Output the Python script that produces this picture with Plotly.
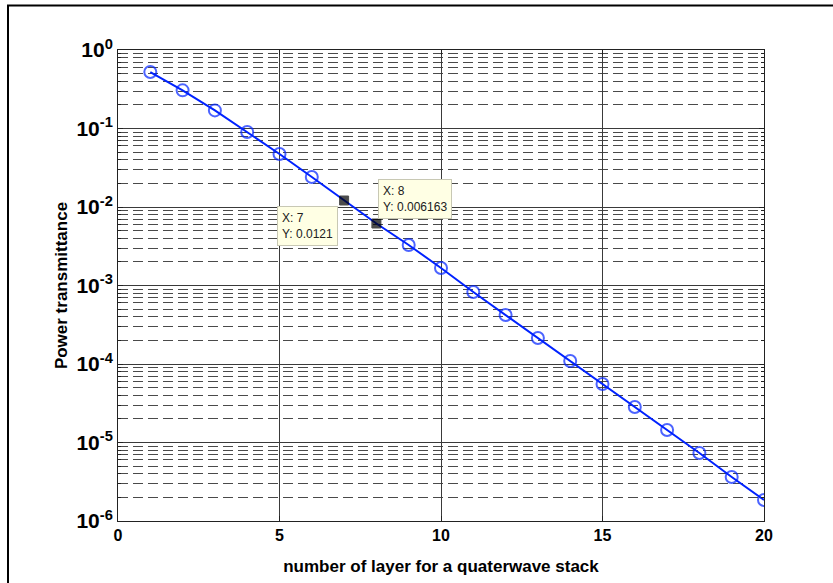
import math
import plotly.graph_objects as go

# Power transmittance of a quarter-wave stack vs. number of layers
layers = list(range(1, 21))
transmittance = [0.524, 0.306, 0.170, 0.0902, 0.0473, 0.0241, 0.0121, 0.006163,
                 0.00328, 0.00167, 0.000826, 0.000421, 0.000214, 0.000109,
                 5.56e-5, 2.83e-5, 1.44e-5, 7.35e-6, 3.64e-6, 1.85e-6]

# data tips shown on the plot
tip_layers = [7, 8]
tip_labels = ["X: 7<br>Y: 0.0121", "X: 8<br>Y: 0.006163"]

x_ticks = [0, 5, 10, 15, 20]
y_decades = [-6, -5, -4, -3, -2, -1, 0]

FONT = "Liberation Sans, Arial, sans-serif"

y_tickvals = [10.0 ** d for d in y_decades]
y_ticktext = [f"<span style='font-size:21px;font-weight:bold'>10<sup>{d}</sup></span>"
              for d in y_decades]
y_minor = [m * 10.0 ** d for d in y_decades[:-1] for m in range(2, 10)]

# marker style per point: open circles, black squares at data tips
symbols = ["square" if x in tip_layers else "circle-open" for x in layers]
mcolors = ["black" if x in tip_layers else "#0022ff" for x in layers]
msizes = [9 if x in tip_layers else 12 for x in layers]
mline_widths = [1 if x in tip_layers else 2 for x in layers]
mline_colors = ["black" if x in tip_layers else "#0022ff" for x in layers]

fig = go.Figure()
fig.add_trace(go.Scatter(
    x=layers, y=transmittance, mode="lines+markers",
    line=dict(color="#0022ff", width=2),
    marker=dict(symbol=symbols, color=mcolors, size=msizes,
                line=dict(color=mline_colors, width=mline_widths)),
    showlegend=False, hoverinfo="skip",
))

tip_y = [transmittance[layers.index(x)] for x in tip_layers]
anchors = [("right", "top", -6, -5), ("left", "bottom", 2, 5)]
for x, y, txt, (xa, ya, xs, ys) in zip(tip_layers, tip_y, tip_labels, anchors):
    fig.add_annotation(
        x=x, y=math.log10(y), xref="x", yref="y", text=txt, showarrow=False,
        xanchor=xa, yanchor=ya, xshift=xs, yshift=ys, align="left",
        font=dict(family=FONT, size=12, color="#202020"),
        bgcolor="#ffffe4", bordercolor="#c8c8b4", borderwidth=1, borderpad=4,
    )

# outer window frame (top and left edges)
L, R, T, B = 118, 764, 50, 521
W, H = R - L, B - T
def px(v):
    return (v - L) / W
def py(v):
    return (B - v) / H
fig.add_shape(type="line", xref="paper", yref="paper",
              x0=px(7), x1=px(833), y0=py(5.5), y1=py(5.5),
              line=dict(color="black", width=2))
fig.add_shape(type="line", xref="paper", yref="paper",
              x0=px(8), x1=px(8), y0=py(5.5), y1=py(583),
              line=dict(color="black", width=2))

fig.update_layout(
    width=833, height=583,
    margin=dict(l=L, r=833 - R, t=T, b=583 - B),
    paper_bgcolor="white", plot_bgcolor="white",
    font=dict(family=FONT, color="black"),
    xaxis=dict(
        range=[0, 20], tickvals=x_ticks, ticks="inside", ticklen=5,
        tickcolor="#222", showline=True, linecolor="#222", linewidth=1,
        mirror="allticks", showgrid=True, gridcolor="#3a3a3a", gridwidth=1,
        zeroline=False,
        tickfont=dict(family=FONT, size=16, color="black", weight="bold"),
        title=dict(text="<b>number of layer for a quaterwave stack</b>",
                   font=dict(family=FONT, size=17, color="black"), standoff=16),
    ),
    yaxis=dict(
        type="log", range=[-6, 0], tickvals=y_tickvals, ticktext=y_ticktext,
        ticks="inside", ticklen=5, tickcolor="#222",
        showline=True, linecolor="#222", linewidth=1, mirror="allticks",
        showgrid=True, gridcolor="#3a3a3a", gridwidth=1, zeroline=False,
        tickfont=dict(family=FONT, size=21, color="black"),
        minor=dict(tickvals=y_minor, ticks="inside", ticklen=3, tickcolor="#222",
                   showgrid=True, gridcolor="#4a4a4a", gridwidth=1,
                   griddash="10px,5px"),
        title=dict(text="<b>Power transmittance</b>",
                   font=dict(family=FONT, size=17, color="black"), standoff=4),
    ),
)

fig.write_html("out.html")
